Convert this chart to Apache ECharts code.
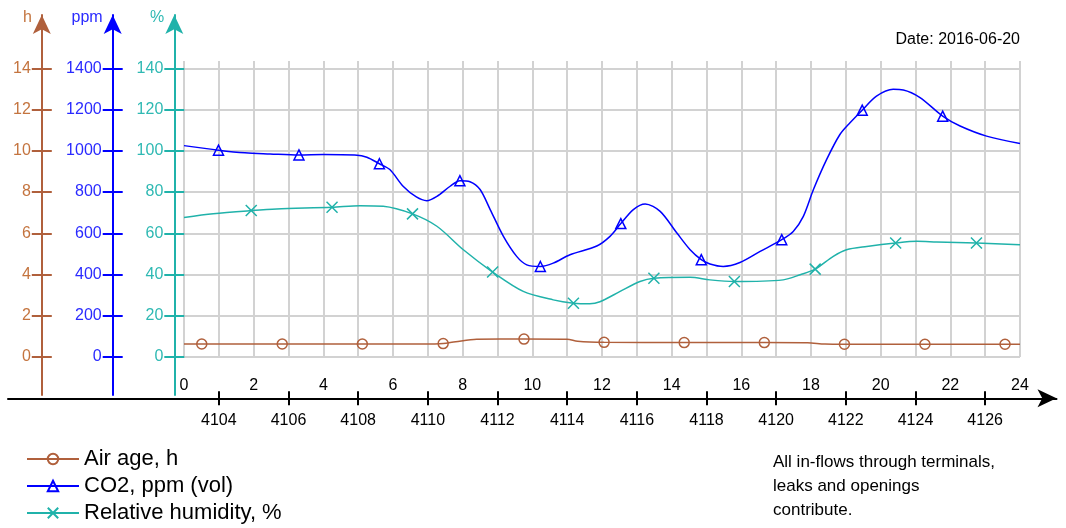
<!DOCTYPE html>
<html>
<head>
<meta charset="utf-8">
<title>Air age, CO2 and relative humidity</title>
<script src="https://cdn.jsdelivr.net/npm/echarts@6/dist/echarts.min.js"></script>
<style>
  html, body { margin: 0; padding: 0; background: #ffffff; }
  #chart { width: 1066px; height: 528px; }
</style>
</head>
<body>
<div id="chart"></div>
<script>
// ---- data (time in hours of the day) ----
const airAgeHours   = [0, 0.51, 2.82, 5.12, 7.2, 7.44, 7.8, 8.4, 9.76, 11.0, 11.3, 12.06, 14.36, 16.66, 17.9, 18.4, 18.96, 21.27, 23.57, 24];
const airAgeValues  = [0.63, 0.63, 0.63, 0.63, 0.63, 0.65, 0.74, 0.86, 0.87, 0.86, 0.76, 0.71, 0.70, 0.70, 0.69, 0.63, 0.62, 0.62, 0.62, 0.62];
const airAgeMarkers = [0.51, 2.82, 5.12, 7.44, 9.76, 12.06, 14.36, 16.66, 18.96, 21.27, 23.57];

const co2Hours = [0, 0.99, 1.75, 2.47, 3.3, 4.0, 4.9, 5.25, 5.61, 5.91, 6.29, 6.67, 6.97, 7.26, 7.64, 7.92, 8.21, 8.5, 8.79, 9.17,
                  9.55, 9.84, 10.23, 10.6, 11.08, 11.85, 12.23, 12.54, 12.9, 13.24, 13.67, 14.15, 14.53, 14.85, 15.1, 15.48, 15.96, 16.54, 17.16, 17.49,
                  17.78, 18.07, 18.45, 18.83, 19.12, 19.47, 19.88, 20.36, 20.65, 21.13, 21.78, 22.28, 23.04, 24];
const co2Ppm   = [1025, 1003, 990, 985, 980, 982, 979, 969, 937, 909, 828, 776, 758, 779, 828, 855, 850, 812, 715, 585,
                  488, 447, 439, 455, 496, 538, 585, 647, 715, 742, 706, 601, 520, 472, 451, 439, 458, 512, 569, 609,
                  682, 812, 958, 1079, 1136, 1197, 1265, 1298, 1295, 1258, 1168, 1120, 1071, 1035];
const co2Markers = [0.99, 3.3, 5.61, 7.92, 10.23, 12.54, 14.85, 17.16, 19.47, 21.78];

const rhHours  = [0, 0.84, 1.93, 2.66, 4.25, 5.05, 5.72, 6.56, 7.26, 8.02, 8.86, 9.74, 10.6, 11.18, 11.65, 11.94, 12.52, 13.09, 13.49, 14.53,
                  15.1, 15.8, 17.2, 17.69, 18.12, 18.64, 19.02, 19.6, 20.43, 21.04, 21.61, 22.75, 24];
const rhValues = [67.7, 69.5, 71.0, 71.8, 72.6, 73.4, 73.1, 69.4, 63.4, 52.0, 41.2, 31.8, 27.7, 26.1, 25.8, 26.8, 31.8, 36.6, 38.2, 38.7,
                  37.4, 36.6, 37.4, 39.9, 42.6, 48.8, 52.0, 53.6, 55.3, 56.1, 55.8, 55.3, 54.4];
const rhMarkers = [1.93, 4.25, 6.56, 8.86, 11.18, 13.49, 15.8, 18.12, 20.43, 22.75];

// ---- axis ticks ----
const hourTicks = [0, 2, 4, 6, 8, 10, 12, 14];
const ppmTicks  = [0, 200, 400, 600, 800, 1000, 1200, 1400];
const pctTicks  = [0, 20, 40, 60, 80, 100, 120, 140];
const dayHourTicks = [4104, 4106, 4108, 4110, 4112, 4114, 4116, 4118, 4120, 4122, 4124, 4126];
const dayHourAtZero = 4103;   // running hour count at 0 h of this day

const seriesNames = ['Air age, h', 'CO2, ppm (vol)', 'Relative humidity, %'];
const dateText = 'Date: 2016-06-20';
const noteText = 'All in-flows through terminals,\nleaks and openings\ncontribute.';

// ---- layout & style ----
const FONT = '"Liberation Sans", Arial, sans-serif';
const BROWN = '#b0603c', BROWN_TXT = '#c4743f';
const BLUE = '#0000ff',  BLUE_TXT = '#2a2aff';
const TEAL = '#20b2aa',  TEAL_TXT = '#2fb9b3';
const GRID_COLOR = '#d2d2d2';

const PLOT = { left: 184, right: 1020, top: 68.3, bottom: 357, linesTop: 61 };
const AXIS_TOP = 15, AXIS_BOTTOM = 395;          // extent of the three value axes
const TIME_LEFT = 8, TIME_RIGHT = 1056.5, TIME_Y = 398.3;
const W = 1066, H = 528;

const pxPerPct = (PLOT.bottom - PLOT.top) / 140;
const pctMin = -(AXIS_BOTTOM - PLOT.bottom) / pxPerPct;
const pctMax = (PLOT.bottom - AXIS_TOP) / pxPerPct;
const pxPerHour = (PLOT.right - PLOT.left) / 24;
const timeMin = dayHourAtZero - (PLOT.left - TIME_LEFT) / pxPerHour;
const timeMax = dayHourAtZero + (TIME_RIGHT - PLOT.left) / pxPerHour;

const plain = function (v) { return String(v); };

function lineData(hours, values, markers) {
  return hours.map(function (t, i) {
    const item = { value: [t, values[i]] };
    if (markers.indexOf(t) < 0) item.symbol = 'none';
    return item;
  });
}

// a value axis drawn twice: once with line, outer ticks and labels, once with inner ticks
function sideAxes(color, txtColor, scale, ticks, offset, name) {
  const base = {
    gridIndex: 2, type: 'value', position: 'left', offset: offset,
    min: pctMin * scale, max: pctMax * scale,
    splitLine: { show: false }
  };
  const main = Object.assign({}, base, {
    name: name, nameLocation: 'end', nameGap: -3,
    nameTextStyle: { color: txtColor, fontSize: 16, fontFamily: FONT, align: 'right', verticalAlign: 'middle', padding: [0, 10, 0, 0] },
    axisLine: { show: true, onZero: false, symbol: ['none', 'arrow'], symbolSize: [13.5, 19], lineStyle: { color: color, width: 2 } },
    axisTick: { show: true, length: 10, customValues: ticks, lineStyle: { color: color, width: 2 } },
    axisLabel: { show: true, customValues: ticks, formatter: plain, margin: 11, color: txtColor, fontSize: 16, fontFamily: FONT }
  });
  const inner = Object.assign({}, base, {
    axisLine: { show: false, onZero: false },
    axisTick: { show: true, inside: true, length: 10, customValues: ticks, lineStyle: { color: color, width: 2 } },
    axisLabel: { show: false }
  });
  return [main, inner];
}

const chart = echarts.init(document.getElementById('chart'), null, { renderer: 'canvas' });

const gridCommon = { containLabel: false, outerBoundsMode: 'none' };

const option = {
  animation: false,
  backgroundColor: '#ffffff',
  title: [
    { text: dateText, right: W - PLOT.right, top: 32, padding: 0,
      textStyle: { fontFamily: FONT, fontSize: 16, fontWeight: 'normal', color: '#000' } },
    { text: noteText, left: 773, top: 450, padding: 0,
      textStyle: { fontFamily: FONT, fontSize: 17, lineHeight: 24, fontWeight: 'normal', color: '#000' } }
  ],
  legend: {
    data: seriesNames, orient: 'vertical', left: 26, top: 448, height: 80, width: 400, padding: 0,
    itemWidth: 52, itemHeight: 13, itemGap: 5, selectedMode: false,
    textStyle: { fontFamily: FONT, fontSize: 22, lineHeight: 22, color: '#000' }
  },
  grid: [
    Object.assign({ left: PLOT.left, right: W - PLOT.right, top: PLOT.top, bottom: H - PLOT.bottom }, gridCommon),
    Object.assign({ left: PLOT.left, right: W - PLOT.right, top: PLOT.linesTop, bottom: H - PLOT.bottom }, gridCommon),
    Object.assign({ left: 174.3, width: 20, top: AXIS_TOP, bottom: H - AXIS_BOTTOM }, gridCommon),
    Object.assign({ left: TIME_LEFT, right: W - TIME_RIGHT, top: 300, bottom: H - TIME_Y }, gridCommon)
  ],
  xAxis: [
    { gridIndex: 0, type: 'value', min: 0, max: 24, interval: 2,
      axisLine: { show: false, onZero: false }, axisTick: { show: false }, splitLine: { show: false },
      axisLabel: { margin: 21, formatter: plain, color: '#000', fontSize: 16, fontFamily: FONT } },
    { gridIndex: 1, type: 'value', min: 0, max: 24, interval: 1,
      axisLine: { show: false, onZero: false }, axisTick: { show: false }, axisLabel: { show: false },
      splitLine: { show: true, lineStyle: { color: GRID_COLOR, width: 2 } } },
    { gridIndex: 2, type: 'value', min: 0, max: 1, show: false },
    { gridIndex: 3, type: 'value', position: 'bottom', min: timeMin, max: timeMax,
      axisLine: { show: true, onZero: false, symbol: ['none', 'arrow'], symbolSize: [13.5, 19], lineStyle: { color: '#000', width: 2 } },
      axisTick: { show: true, length: 7, customValues: dayHourTicks, lineStyle: { color: '#000', width: 2 } },
      axisLabel: { show: true, customValues: dayHourTicks, formatter: plain, margin: 14, color: '#000', fontSize: 16, fontFamily: FONT },
      splitLine: { show: false } },
    { gridIndex: 3, type: 'value', position: 'bottom', min: timeMin, max: timeMax,
      axisLine: { show: false, onZero: false },
      axisTick: { show: true, inside: true, length: 7, customValues: dayHourTicks, lineStyle: { color: '#000', width: 2 } },
      axisLabel: { show: false }, splitLine: { show: false } }
  ],
  yAxis: [
    // plot scales
    { gridIndex: 0, type: 'value', min: 0, max: 140, interval: 20,
      axisLine: { show: false, onZero: false }, axisTick: { show: false }, axisLabel: { show: false },
      splitLine: { show: true, lineStyle: { color: GRID_COLOR, width: 2 } } },
    { gridIndex: 0, type: 'value', min: 0, max: 1400, interval: 200, show: false, splitLine: { show: false } },
    { gridIndex: 0, type: 'value', min: 0, max: 14, interval: 2, show: false, splitLine: { show: false } },
    { gridIndex: 1, type: 'value', min: 0, max: 1, show: false },
    // drawn value axes
    ...sideAxes(TEAL, TEAL_TXT, 1, pctTicks, 0, '%'),
    ...sideAxes(BLUE, BLUE_TXT, 10, ppmTicks, 61.6, 'ppm'),
    ...sideAxes(BROWN, BROWN_TXT, 0.1, hourTicks, 132.5, 'h'),
    { gridIndex: 3, type: 'value', min: 0, max: 1, show: false }
  ],
  series: [
    { name: seriesNames[0], type: 'line', xAxisIndex: 0, yAxisIndex: 2,
      data: lineData(airAgeHours, airAgeValues, airAgeMarkers),
      smooth: 0.3, showAllSymbol: true, symbol: 'circle', symbolSize: 10,
      lineStyle: { color: BROWN, width: 1.5 },
      itemStyle: { color: 'rgba(255,255,255,0)', borderColor: BROWN, borderWidth: 1.5 },
      emphasis: { disabled: true }, z: 3 },
    { name: seriesNames[1], type: 'line', xAxisIndex: 0, yAxisIndex: 1,
      data: lineData(co2Hours, co2Ppm, co2Markers),
      smooth: 0.3, showAllSymbol: true, symbol: 'triangle', symbolSize: 10,
      lineStyle: { color: BLUE, width: 1.5 },
      itemStyle: { color: 'rgba(255,255,255,0)', borderColor: BLUE, borderWidth: 1.5 },
      emphasis: { disabled: true }, z: 4 },
    { name: seriesNames[2], type: 'line', xAxisIndex: 0, yAxisIndex: 0,
      data: lineData(rhHours, rhValues, rhMarkers),
      smooth: 0.3, showAllSymbol: true, symbol: 'path://M0,0L10,10M10,0L0,10', symbolSize: 11,
      lineStyle: { color: TEAL, width: 1.5 },
      itemStyle: { color: 'rgba(255,255,255,0)', borderColor: TEAL, borderWidth: 1.5 },
      emphasis: { disabled: true }, z: 4 }
  ]
};

chart.setOption(option);
</script>
</body>
</html>
